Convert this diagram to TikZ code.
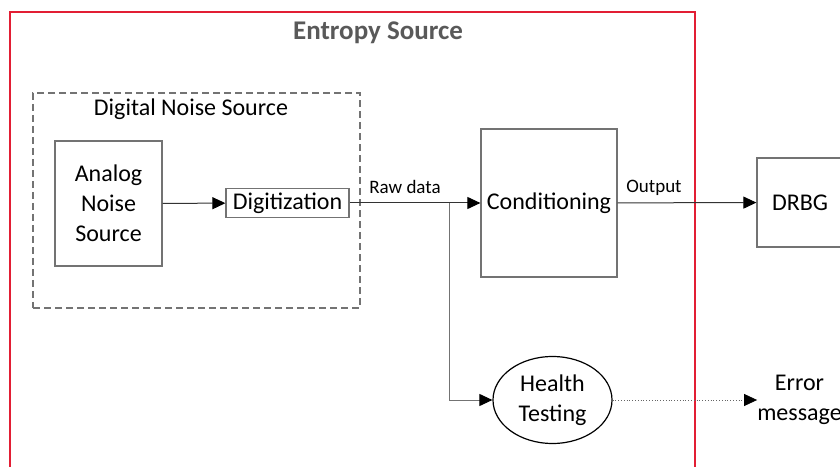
\documentclass[tikz,border=0pt]{standalone}
\usepackage{fontspec}
\setmainfont{Carlito}
\usetikzlibrary{arrows.meta, shapes.geometric}

\definecolor{framered}{RGB}{226,30,52}
\definecolor{boxgray}{RGB}{115,115,115}
\definecolor{titlegray}{RGB}{89,89,89}

\begin{document}
\begin{tikzpicture}[x=1pt, y=1pt,
    block/.style={draw=boxgray, line width=1.2pt, align=center, inner sep=0pt,
        font=\fontsize{24}{30}\selectfont},
    small/.style={inner sep=0pt, font=\fontsize{19}{22}\selectfont},
    link/.style={draw=black!80, line width=1pt, -{Triangle[length=13pt, width=12pt, black]}}]

    \useasboundingbox (0,0) rectangle (840,466);

    % entropy source frame, runs off the page at the bottom
    \draw[framered, line width=2.4pt] (10,-20) -- (10,454) -- (695,454) -- (695,-20);
    \node[text=titlegray, font=\fontsize{27}{30}\selectfont\bfseries] (title) at (378,433) {Entropy Source};

    % digital noise source
    \node[draw=boxgray, dash pattern=on 7pt off 4pt, line width=1.2pt, minimum width=327, minimum height=215] (dns) at (196.5,265.5) {};
    \node[inner sep=0pt, font=\fontsize{24}{30}\selectfont] (dnslabel) at (191,357) {Digital Noise Source};

    \node[block, minimum width=107, minimum height=125] (analog) at (108.5,262.5) {Analog\\Noise\\Source};
    \node[block, minimum width=123, minimum height=29] (digit) at (287.5,263) {Digitization};
    \node[block, minimum width=136, minimum height=148] (cond) at (549,263) {Conditioning};
    \node[block, draw=black, ellipse, minimum width=119, minimum height=87] (health) at (552.5,66) {Health\\Testing};
    \node[block, minimum width=86, minimum height=89] (drbg) at (800,263.5) {DRBG};
    \node[inner sep=0pt, align=center, font=\fontsize{24}{30}\selectfont] (err) at (799.5,66) {Error\\message};

    \coordinate (branch) at (449,263);

    \draw[link] (analog) -- (digit);
    \draw[link] (digit) -- (cond);
    \draw[link, draw=boxgray] (branch) |- (health);
    \draw[link] (cond) -- (drbg);
    \draw[draw=black!60, line width=0.8pt, dotted, -{Triangle[length=13pt, width=12pt, black]}] (health) -- (err);

    \node[small] (raw) at (405,279) {Raw data};
    \node[small] (out) at (654,278) {Output};

\end{tikzpicture}
\end{document}
